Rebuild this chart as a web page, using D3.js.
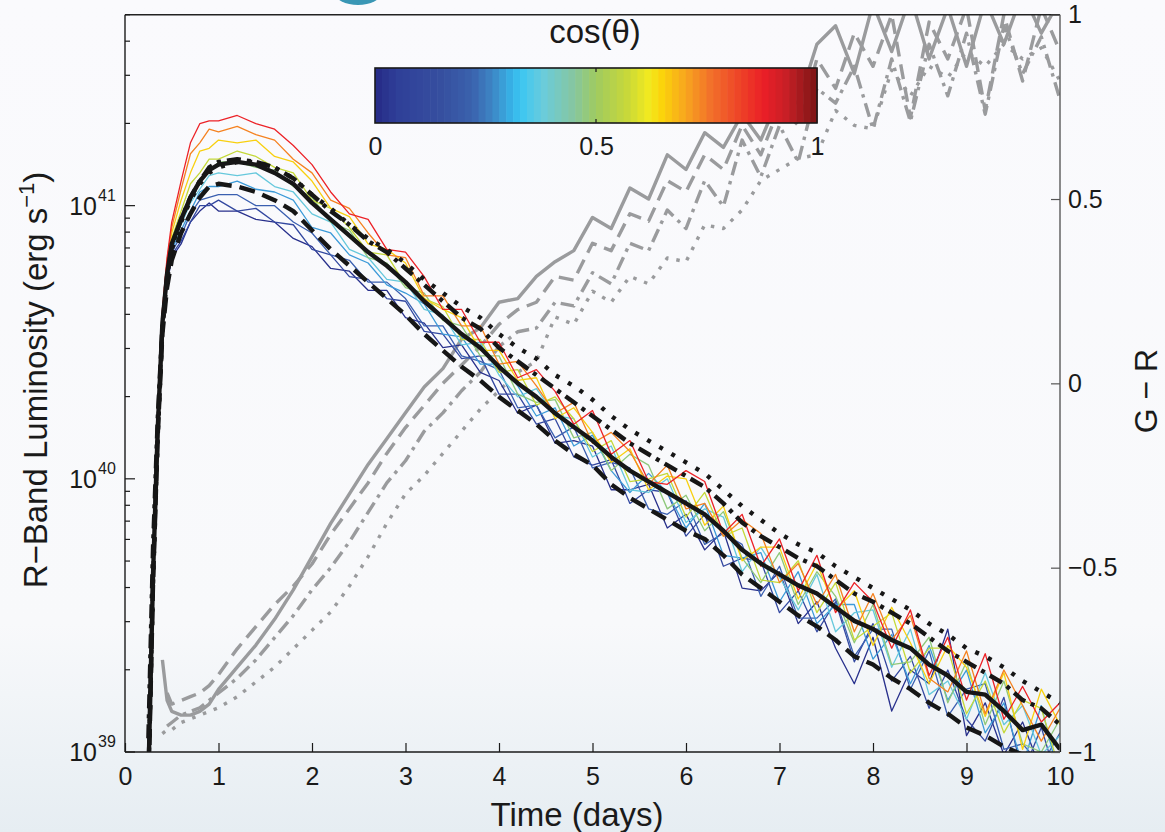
<!doctype html>
<html lang="en">
  <head>
    <meta charset="utf-8">
    <title>R-band luminosity and G-R colour against time</title>
    <style>
      body {
        margin: 0;
        background: #fafafd;
      }

      svg {
        display: block;
        font-family: "Liberation Sans", Arial, Helvetica, sans-serif;
      }

      .axis text {
        font-family: "Liberation Sans", Arial, Helvetica, sans-serif;
        font-size: 25px;
        fill: #1a1a1a;
      }

      .axis .domain {
        display: none;
      }

      .axis line {
        stroke: #1a1a1a;
        stroke-width: 1.2;
      }

      .axis.right line {
        stroke: #555;
      }
    </style>
  </head>
  <body>
    <svg id="chart" width="1165" height="832"></svg>

    <script src="https://cdn.jsdelivr.net/npm/d3@7"></script>
    <script>
      // time grid, days
      const days = [0.25, 0.3, 0.35, 0.4, 0.45, 0.5, 0.6, 0.7, 0.8, 0.9, 1.0,
        1.2, 1.4, 1.6, 1.8, 2.0, 2.2, 2.4, 2.6, 2.8, 3.0, 3.2, 3.4, 3.6, 3.8, 4.0,
        4.2, 4.4, 4.6, 4.8, 5.0, 5.2, 5.4, 5.6, 5.8, 6.0, 6.2, 6.4, 6.6, 6.8, 7.0,
        7.2, 7.4, 7.6, 7.8, 8.0, 8.2, 8.4, 8.6, 8.8, 9.0, 9.2, 9.4, 9.6, 9.8, 10.0]

      // viewing angles and the colour each one is drawn in
      const cosTheta = [0.05, 0.15, 0.25, 0.35, 0.45, 0.55, 0.65, 0.75, 0.85, 0.95]
      const angleColors = ['#28308c', '#3348a0', '#3a5fb0', '#3c9ad8', '#66c8dc',
        '#8ec87a', '#c4d838', '#f8d010', '#f58220', '#ec2227']

      // log10 R-band luminosity (erg/s), one array per viewing angle
      const lumCos05 = [38.75, 39.64, 40.16, 40.54, 40.71, 40.81, 40.86, 40.94, 40.98, 41.01,
        40.98, 40.98, 40.95, 40.94, 40.88, 40.85, 40.77, 40.76, 40.69, 40.69,
        40.59, 40.57, 40.48, 40.49, 40.39, 40.36, 40.24, 40.27, 40.13, 40.14,
        40.12, 39.96, 39.96, 39.98, 39.82, 39.87, 39.74, 39.81, 39.60, 39.59,
        39.66, 39.47, 39.55, 39.38, 39.25, 39.42, 39.15, 39.30, 39.25, 39.45,
        39.06, 39.18, 38.99, 39.11, 38.93, 39.00]
      const lumCos15 = [38.75, 39.64, 40.16, 40.54, 40.72, 40.82, 40.87, 40.94, 41.00, 41.00,
        41.02, 40.98, 40.99, 40.94, 40.93, 40.84, 40.82, 40.74, 40.73, 40.66,
        40.65, 40.54, 40.53, 40.44, 40.45, 40.31, 40.31, 40.20, 40.22, 40.08,
        40.05, 40.07, 39.91, 39.96, 39.95, 39.79, 39.87, 39.68, 39.71, 39.70,
        39.51, 39.59, 39.44, 39.55, 39.33, 39.47, 39.26, 39.35, 39.16, 39.30,
        39.12, 39.04, 39.20, 38.92, 39.09, 38.86]
      const lumCos25 = [38.75, 39.64, 40.17, 40.55, 40.72, 40.83, 40.89, 40.97, 41.02, 41.03,
        41.04, 41.04, 41.00, 41.00, 40.94, 40.90, 40.82, 40.80, 40.72, 40.72,
        40.66, 40.56, 40.56, 40.45, 40.43, 40.40, 40.26, 40.27, 40.15, 40.19,
        40.04, 40.06, 40.04, 39.89, 39.87, 39.92, 39.76, 39.80, 39.76, 39.57,
        39.68, 39.49, 39.49, 39.56, 39.35, 39.45, 39.45, 39.23, 39.37, 39.13,
        39.23, 39.25, 39.01, 39.03, 38.95, 39.07]
      const lumCos35 = [38.75, 39.64, 40.17, 40.56, 40.73, 40.84, 40.91, 40.98, 41.05, 41.07,
        41.07, 41.09, 41.06, 41.05, 41.02, 40.92, 40.90, 40.82, 40.79, 40.71,
        40.68, 40.64, 40.53, 40.52, 40.42, 40.42, 40.34, 40.23, 40.26, 40.12,
        40.16, 40.03, 39.95, 40.02, 39.95, 39.82, 39.91, 39.72, 39.71, 39.73,
        39.55, 39.66, 39.47, 39.54, 39.54, 39.34, 39.43, 39.25, 39.39, 39.19,
        39.30, 39.07, 39.18, 38.95, 39.17, 38.89]
      const lumCos45 = [38.75, 39.65, 40.18, 40.56, 40.74, 40.85, 40.93, 41.01, 41.06, 41.11,
        41.12, 41.11, 41.12, 41.07, 41.05, 40.97, 40.94, 40.84, 40.81, 40.73,
        40.72, 40.62, 40.60, 40.49, 40.50, 40.38, 40.30, 40.33, 40.23, 40.22,
        40.08, 40.12, 39.96, 39.95, 40.00, 39.84, 39.89, 39.86, 39.66, 39.75,
        39.64, 39.52, 39.65, 39.44, 39.51, 39.52, 39.31, 39.45, 39.21, 39.26,
        39.12, 39.29, 39.10, 39.17, 38.99, 39.06]
      const lumCos55 = [38.75, 39.65, 40.18, 40.57, 40.75, 40.86, 40.95, 41.03, 41.10, 41.12,
        41.16, 41.16, 41.14, 41.13, 41.07, 41.03, 40.94, 40.91, 40.81, 40.79,
        40.70, 40.68, 40.58, 40.56, 40.45, 40.45, 40.31, 40.28, 40.29, 40.15,
        40.17, 40.03, 40.09, 40.05, 39.89, 39.94, 39.81, 39.88, 39.71, 39.62,
        39.73, 39.54, 39.66, 39.57, 39.40, 39.54, 39.32, 39.33, 39.42, 39.18,
        39.33, 39.10, 39.26, 39.03, 39.00, 39.12]
      const lumCos65 = [38.75, 39.65, 40.19, 40.58, 40.76, 40.88, 40.98, 41.08, 41.12, 41.17,
        41.17, 41.20, 41.18, 41.14, 41.12, 41.02, 40.99, 40.92, 40.83, 40.82,
        40.71, 40.66, 40.63, 40.51, 40.51, 40.39, 40.40, 40.27, 40.30, 40.22,
        40.10, 40.14, 39.99, 40.00, 40.02, 39.86, 39.95, 39.79, 39.82, 39.63,
        39.62, 39.70, 39.51, 39.62, 39.41, 39.46, 39.51, 39.29, 39.38, 39.38,
        39.14, 39.26, 39.07, 39.19, 39.16, 38.93]
      const lumCos75 = [38.75, 39.66, 40.20, 40.59, 40.78, 40.90, 41.02, 41.12, 41.20, 41.21,
        41.24, 41.23, 41.24, 41.18, 41.16, 41.09, 40.99, 40.96, 40.86, 40.84,
        40.79, 40.66, 40.62, 40.59, 40.47, 40.47, 40.36, 40.37, 40.22, 40.26,
        40.17, 40.06, 40.11, 39.96, 40.01, 40.00, 39.83, 39.90, 39.70, 39.75,
        39.75, 39.56, 39.69, 39.52, 39.59, 39.39, 39.53, 39.40, 39.25, 39.39,
        39.31, 39.13, 39.29, 39.01, 39.23, 39.10]
      const lumCos85 = [38.75, 39.67, 40.20, 40.61, 40.80, 40.92, 41.06, 41.19, 41.23, 41.28,
        41.27, 41.29, 41.26, 41.24, 41.17, 41.12, 41.02, 40.99, 40.90, 40.82,
        40.81, 40.67, 40.67, 40.56, 40.56, 40.42, 40.43, 40.34, 40.24, 40.28,
        40.13, 40.17, 40.10, 39.98, 40.05, 39.89, 39.91, 39.79, 39.85, 39.80,
        39.62, 39.69, 39.54, 39.65, 39.44, 39.58, 39.41, 39.50, 39.27, 39.22,
        39.37, 39.14, 39.30, 39.17, 39.04, 39.16]
      const lumCos95 = [38.75, 39.67, 40.21, 40.62, 40.81, 40.94, 41.09, 41.23, 41.30, 41.31,
        41.31, 41.33, 41.30, 41.28, 41.22, 41.15, 41.05, 40.97, 40.95, 40.84,
        40.83, 40.74, 40.62, 40.62, 40.50, 40.50, 40.37, 40.40, 40.32, 40.20,
        40.25, 40.09, 40.14, 39.99, 39.98, 40.03, 39.99, 39.80, 39.87, 39.68,
        39.78, 39.59, 39.72, 39.51, 39.62, 39.55, 39.38, 39.52, 39.28, 39.42,
        39.19, 39.36, 39.12, 39.24, 39.11, 39.18]

      // angle-averaged models, log10 R-band luminosity (black curves)
      const lumSolid = [38.90, 39.65, 40.18, 40.57, 40.75, 40.86, 40.95, 41.03, 41.09, 41.13,
        41.15, 41.16, 41.15, 41.12, 41.08, 41.01, 40.95, 40.89, 40.83, 40.78,
        40.72, 40.65, 40.59, 40.53, 40.48, 40.41, 40.35, 40.30, 40.24, 40.19,
        40.14, 40.08, 40.03, 39.99, 39.95, 39.91, 39.87, 39.81, 39.74, 39.69,
        39.65, 39.61, 39.58, 39.53, 39.48, 39.45, 39.41, 39.38, 39.32, 39.28,
        39.22, 39.21, 39.15, 39.08, 39.10, 39.01]
      const lumDashed = [38.85, 39.62, 40.16, 40.53, 40.70, 40.80, 40.90, 40.97, 41.03, 41.07,
        41.08, 41.07, 41.05, 41.02, 40.98, 40.91, 40.84, 40.78, 40.72, 40.66,
        40.60, 40.53, 40.47, 40.41, 40.36, 40.30, 40.25, 40.20, 40.14, 40.09,
        40.05, 39.98, 39.93, 39.89, 39.85, 39.81, 39.78, 39.72, 39.65, 39.60,
        39.55, 39.50, 39.46, 39.41, 39.35, 39.32, 39.27, 39.23, 39.18, 39.14,
        39.09, 39.06, 39.02, 38.99, 38.97, 38.92]
      const lumDashDot = [39.05, 39.75, 40.22, 40.56, 40.74, 40.85, 40.95, 41.03, 41.09, 41.14,
        41.16, 41.17, 41.16, 41.14, 41.10, 41.04, 40.98, 40.93, 40.87, 40.83,
        40.77, 40.71, 40.65, 40.59, 40.55, 40.48, 40.43, 40.38, 40.33, 40.28,
        40.23, 40.18, 40.13, 40.09, 40.05, 40.01, 39.97, 39.91, 39.84, 39.79,
        39.75, 39.71, 39.68, 39.63, 39.58, 39.55, 39.51, 39.47, 39.42, 39.37,
        39.33, 39.29, 39.25, 39.19, 39.16, 39.10]
      const lumDotted = [38.90, 39.62, 40.15, 40.55, 40.73, 40.84, 40.94, 41.02, 41.08, 41.12,
        41.14, 41.16, 41.16, 41.14, 41.10, 41.04, 40.99, 40.93, 40.88, 40.84,
        40.79, 40.73, 40.68, 40.63, 40.59, 40.53, 40.48, 40.44, 40.38, 40.34,
        40.29, 40.23, 40.18, 40.14, 40.10, 40.06, 40.02, 39.96, 39.90, 39.85,
        39.80, 39.76, 39.73, 39.68, 39.64, 39.60, 39.56, 39.52, 39.47, 39.43,
        39.38, 39.35, 39.31, 39.26, 39.22, 39.18]

      // G - R colour of the same four models (grey curves, right axis)
      const grSolid = [null, null, null, -0.75, -0.86, -0.89, -0.90, -0.90, -0.89, -0.87,
        -0.83, -0.77, -0.71, -0.64, -0.56, -0.47, -0.38, -0.30, -0.22, -0.15,
        -0.08, -0.01, 0.04, 0.12, 0.15, 0.22, 0.23, 0.29, 0.33, 0.36,
        0.45, 0.42, 0.53, 0.50, 0.62, 0.58, 0.68, 0.64, 0.73, 0.66,
        0.78, 0.76, 0.92, 0.97, 0.84, 1.03, 0.90, 1.05, 0.88, 1.02,
        0.86, 1.04, 0.92, 1.06, 0.95, 1.04]
      const grDashed = [null, null, null, null, -0.84, -0.87, -0.86, -0.85, -0.84, -0.82,
        -0.79, -0.72, -0.66, -0.60, -0.55, -0.49, -0.41, -0.34, -0.27, -0.19,
        -0.12, -0.06, 0.00, 0.05, 0.10, 0.16, 0.20, 0.22, 0.29, 0.28,
        0.38, 0.36, 0.46, 0.44, 0.55, 0.52, 0.62, 0.58, 0.70, 0.62,
        0.75, 0.70, 0.88, 0.80, 0.95, 0.86, 1.00, 0.72, 0.98, 0.88,
        1.02, 0.74, 1.00, 0.82, 1.02, 0.90]
      const grDashDot = [null, null, null, null, -0.93, -0.92, -0.90, -0.89, -0.88, -0.86,
        -0.84, -0.80, -0.75, -0.69, -0.63, -0.56, -0.50, -0.43, -0.35, -0.27,
        -0.21, -0.13, -0.08, -0.02, 0.03, 0.10, 0.14, 0.15, 0.22, 0.21,
        0.30, 0.27, 0.38, 0.36, 0.47, 0.42, 0.55, 0.48, 0.66, 0.56,
        0.70, 0.60, 0.80, 0.76, 0.86, 0.69, 0.88, 0.71, 0.92, 0.78,
        0.95, 0.73, 0.97, 0.84, 0.94, 0.77]
      const grDotted = [null, null, null, -0.95, -0.94, -0.94, -0.92, -0.91, -0.90, -0.89,
        -0.88, -0.85, -0.81, -0.77, -0.72, -0.67, -0.62, -0.55, -0.47, -0.38,
        -0.30, -0.25, -0.19, -0.13, -0.07, -0.02, 0.03, 0.06, 0.18, 0.16,
        0.25, 0.22, 0.29, 0.27, 0.34, 0.33, 0.43, 0.42, 0.47, 0.55,
        0.58, 0.61, 0.62, 0.74, 0.70, 0.69, 0.85, 0.78, 0.86, 0.83,
        0.90, 0.86, 0.92, 0.88, 0.91, 0.82]

      // tick labels
      const timeTicks = [0, 1, 2, 3, 4, 5, 6, 7, 8, 9, 10]
      const grTicks = [-1, -0.5, 0, 0.5, 1]
      const lumDecades = [39, 40, 41]
      const colorbarTicks = [0, 0.5, 1]

      // colour map of the cos(theta) bar
      const cmapStops = [0, 0.05, 0.15, 0.22, 0.27, 0.31, 0.33, 0.38, 0.45, 0.5,
        0.57, 0.62, 0.65, 0.7, 0.76, 0.82, 0.88, 0.93, 1]
      const cmapColors = ['#262a86', '#2f3f98', '#364f9f', '#3b62ad', '#3d8ac8', '#36b4e8',
        '#3cc6f2', '#6accdc', '#86c6a0', '#9fcb60', '#c8d83a', '#f2ea1e', '#fbd30a',
        '#f8a81e', '#f2702a', '#ee4627', '#ea1f27', '#c81f26', '#7a1414']

      const plotLeft = 125
      const plotRight = 1060
      const plotTop = 14.7
      const plotBottom = 752

      const svg = d3.select('#chart')

      // slide background
      const defs = svg.append('defs')
      const grad = defs.append('linearGradient')
        .attr('id', 'bg')
        .attr('x1', 0).attr('y1', 0).attr('x2', 0).attr('y2', 1)
      grad.append('stop').attr('offset', '0%').attr('stop-color', '#fafafd')
      grad.append('stop').attr('offset', '75%').attr('stop-color', '#f8f9fb')
      grad.append('stop').attr('offset', '100%').attr('stop-color', '#e6edf2')
      svg.append('rect')
        .attr('width', 1165).attr('height', 832)
        .attr('fill', 'url(#bg)')
      svg.append('ellipse')
        .attr('cx', 358).attr('cy', -7).attr('rx', 23).attr('ry', 12)
        .attr('fill', '#3a97b5')

      defs.append('clipPath').attr('id', 'plot-clip')
        .append('rect')
          .attr('x', plotLeft).attr('y', plotTop)
          .attr('width', plotRight - plotLeft).attr('height', plotBottom - plotTop)

      const x = d3.scaleLinear().domain([0, 10]).range([plotLeft, plotRight])
      const y = d3.scaleLog().domain([1e39, 5e41]).range([plotBottom, plotTop])
      const yGR = d3.scaleLinear().domain([-1, 1]).range([plotBottom, plotTop])

      const lumLine = d3.line()
        .x((d, i) => x(days[i]))
        .y(d => y(Math.pow(10, d)))
      const grLine = d3.line()
        .defined(d => d != null)
        .x((d, i) => x(days[i]))
        .y(d => yGR(d))

      const plot = svg.append('g').attr('clip-path', 'url(#plot-clip)')

      // grey G - R curves
      const grModels = [
        { values: grSolid, dash: null },
        { values: grDashed, dash: '15,8' },
        { values: grDashDot, dash: '14,6,3.5,6' },
        { values: grDotted, dash: '3.5,8' },
      ]
      plot.append('g').selectAll('path').data(grModels)
        .join('path')
          .attr('d', d => grLine(d.values))
          .attr('fill', 'none')
          .attr('stroke', '#9a9b9d')
          .attr('stroke-width', 3.4)
          .attr('stroke-linejoin', 'round')
          .attr('stroke-dasharray', d => d.dash)

      // coloured curves, one per viewing angle
      const angleSeries = [lumCos05, lumCos15, lumCos25, lumCos35, lumCos45,
        lumCos55, lumCos65, lumCos75, lumCos85, lumCos95]
      const angleColor = d3.scaleOrdinal().domain(cosTheta).range(angleColors)
      plot.append('g').selectAll('path').data(angleSeries)
        .join('path')
          .attr('d', d => lumLine(d))
          .attr('fill', 'none')
          .attr('stroke', (d, i) => angleColor(cosTheta[i]))
          .attr('stroke-width', 1.3)
          .attr('stroke-linejoin', 'round')

      // black angle-averaged curves
      const lumModels = [
        { values: lumDashed, dash: '16,8' },
        { values: lumDashDot, dash: '14,6,4,6' },
        { values: lumDotted, dash: '4,10' },
        { values: lumSolid, dash: null },
      ]
      plot.append('g').selectAll('path').data(lumModels)
        .join('path')
          .attr('d', d => lumLine(d.values))
          .attr('fill', 'none')
          .attr('stroke', '#161616')
          .attr('stroke-width', 4.4)
          .attr('stroke-linejoin', 'round')
          .attr('stroke-dasharray', d => d.dash)

      // frame
      svg.append('line')
        .attr('x1', plotLeft).attr('x2', plotRight).attr('y1', plotTop).attr('y2', plotTop)
        .attr('stroke', '#222').attr('stroke-width', 1.4)
      svg.append('line')
        .attr('x1', plotLeft).attr('x2', plotRight).attr('y1', plotBottom).attr('y2', plotBottom)
        .attr('stroke', '#1a1a1a').attr('stroke-width', 1.4)
      svg.append('line')
        .attr('x1', plotLeft).attr('x2', plotLeft).attr('y1', plotTop).attr('y2', plotBottom)
        .attr('stroke', '#1a1a1a').attr('stroke-width', 1.4)
      svg.append('line')
        .attr('x1', plotRight).attr('x2', plotRight).attr('y1', plotTop).attr('y2', plotBottom)
        .attr('stroke', '#5a5a5a').attr('stroke-width', 1.4)

      // time axis
      svg.append('g')
        .attr('class', 'axis')
        .attr('transform', `translate(0, ${plotBottom})`)
        .call(d3.axisBottom(x)
          .tickValues(timeTicks)
          .tickSize(-9)
          .tickPadding(15)
          .tickFormat(d3.format('d')))

      // G - R axis
      svg.append('g')
        .attr('class', 'axis right')
        .attr('transform', `translate(${plotRight}, 0)`)
        .call(d3.axisRight(yGR)
          .tickValues(grTicks)
          .tickSize(-9)
          .tickPadding(8)
          .tickFormat(d3.format('')))

      // log luminosity axis, major and minor ticks
      const isDecade = v => Math.abs(Math.log10(v) - Math.round(Math.log10(v))) < 1e-6
      svg.append('g').selectAll('line').data(y.ticks())
        .join('line')
          .attr('x1', plotLeft)
          .attr('x2', d => plotLeft + (isDecade(d) ? 10 : 5))
          .attr('y1', d => y(d))
          .attr('y2', d => y(d))
          .attr('stroke', '#1a1a1a')
          .attr('stroke-width', 1.2)

      const decadeLabels = svg.append('g').selectAll('g').data(lumDecades)
        .join('g')
          .attr('transform', d => `translate(0, ${y(Math.pow(10, d))})`)
      decadeLabels.append('text')
        .attr('x', 97).attr('y', 9)
        .attr('text-anchor', 'end')
        .attr('font-size', 25)
        .attr('fill', '#1a1a1a')
        .text('10')
      decadeLabels.append('text')
        .attr('x', 98).attr('y', -5)
        .attr('font-size', 16)
        .attr('fill', '#1a1a1a')
        .text(d => d)

      // axis titles
      const yTitle = svg.append('text')
        .attr('transform', 'translate(47, 380) rotate(-90)')
        .attr('text-anchor', 'middle')
        .attr('font-size', 33)
        .attr('fill', '#1a1a1a')
      yTitle.append('tspan').text('R\u2212Band Luminosity (erg s')
      yTitle.append('tspan').attr('dy', -13).attr('font-size', 22).text('\u22121')
      yTitle.append('tspan').attr('dy', 13).text(')')

      svg.append('text')
        .attr('x', 577).attr('y', 826)
        .attr('text-anchor', 'middle')
        .attr('font-size', 33)
        .attr('fill', '#1a1a1a')
        .text('Time (days)')

      svg.append('text')
        .attr('transform', 'translate(1157, 391) rotate(-90)')
        .attr('text-anchor', 'middle')
        .attr('font-size', 32)
        .attr('fill', '#1a1a1a')
        .text('G \u2212 R')

      // cos(theta) colour bar
      const cmap = d3.scaleLinear().domain(cmapStops).range(cmapColors)
      const cb = d3.scaleLinear().domain([0, 1]).range([375, 817])
      const cbTop = 68
      const cbHeight = 55
      const bands = d3.range(64)
      svg.append('g').selectAll('rect').data(bands)
        .join('rect')
          .attr('x', i => cb(i / 64))
          .attr('y', cbTop)
          .attr('width', cb(1 / 64) - cb(0) + 0.6)
          .attr('height', cbHeight)
          .attr('fill', i => cmap((i + 0.5) / 64))
      svg.append('rect')
        .attr('x', cb(0)).attr('y', cbTop)
        .attr('width', cb(1) - cb(0)).attr('height', cbHeight)
        .attr('fill', 'none')
        .attr('stroke', '#1a1a1a')
        .attr('stroke-width', 1.6)
      svg.append('g').selectAll('line').data([cbTop, cbTop + cbHeight - 4])
        .join('line')
          .attr('x1', cb(0.5)).attr('x2', cb(0.5))
          .attr('y1', d => d).attr('y2', d => d + 4)
          .attr('stroke', '#1a1a1a')
          .attr('stroke-width', 1.2)
      svg.append('g')
        .attr('class', 'axis')
        .attr('transform', `translate(0, ${cbTop + cbHeight})`)
        .call(d3.axisBottom(cb)
          .tickValues(colorbarTicks)
          .tickSize(0)
          .tickPadding(14)
          .tickFormat(d3.format('')))

      svg.append('text')
        .attr('x', 595).attr('y', 43)
        .attr('text-anchor', 'middle')
        .attr('font-size', 33)
        .attr('fill', '#1a1a1a')
        .text('cos(\u03b8)')
    </script>
  </body>
</html>
